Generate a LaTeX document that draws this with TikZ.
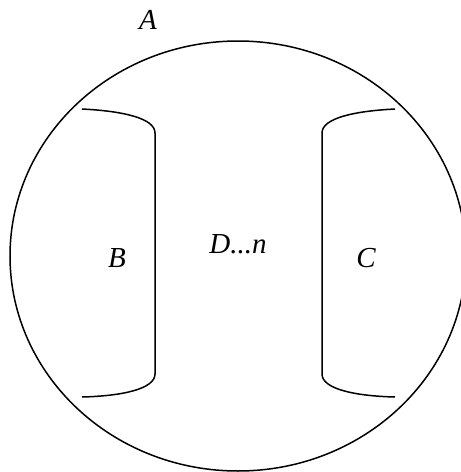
\documentclass[tikz,border=0pt]{standalone}
\usepackage{fontspec}
\setmainfont{Liberation Serif}
\usepackage{tikz}
\usetikzlibrary{positioning}

\begin{document}
\begin{tikzpicture}[
    x=1pt, y=-1pt,
    line width=1.5pt,
    setlabel/.style={anchor=base, inner sep=0pt, font=\fontsize{29}{34}\selectfont\itshape}]
    \useasboundingbox (0,0) rectangle (461,472);
    \begin{scope}
    \clip (0,0) rectangle (461,472);
    \draw (238,256) ellipse [x radius=228, y radius=215];
    \end{scope}
    % left and right brackets
    \draw (82,109) .. controls (122,111) and (155,118) .. (155,133) -- (155,374)
        .. controls (155,389) and (122,396) .. (82,397);
    \draw (395,109) .. controls (355,111) and (322,118) .. (322,133) -- (322,374)
        .. controls (322,389) and (355,396) .. (395,397);
    \node[setlabel] (setA) at (148,29) {A};
    \node[setlabel] (setB) at (117,267) {B};
    \node[setlabel] (setD) at (238,253) {D...n};
    \node[setlabel] (setC) at (366,267) {C};
\end{tikzpicture}
\end{document}
